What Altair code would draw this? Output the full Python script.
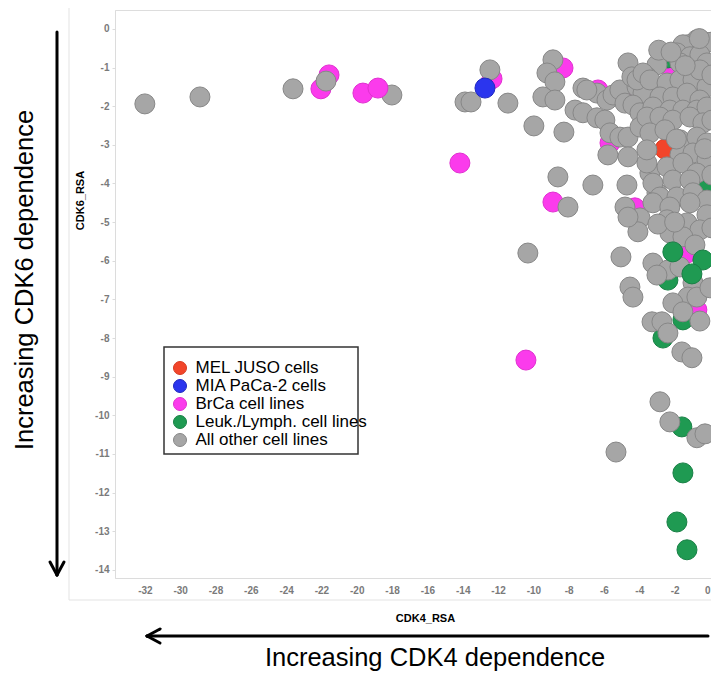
import altair as alt
import pandas as pd

groups = ["MEL JUSO cells", "MIA PaCa-2 cells", "BrCa cell lines",
          "Leuk./Lymph. cell lines", "All other cell lines"]
fill_colors = ["#f2452a", "#2b35ee", "#fb3bec", "#1f9a52", "#a6a6a6"]
stroke_colors = ["#d83a20", "#2029c0", "#e030d0", "#188045", "#878787"]

x_ticks = [-32, -30, -28, -26, -24, -22, -20, -18, -16, -14, -12, -10, -8, -6, -4, -2, 0]
y_ticks = [-14, -13, -12, -11, -10, -9, -8, -7, -6, -5, -4, -3, -2, -1, 0]

x_title = "CDK4_RSA"
y_title = "CDK6_RSA"
x_note = "Increasing CDK4 dependence"
y_note = "Increasing CDK6 dependence"

# front = 1 -> drawn above the grey cloud, 0 -> drawn below it
mel_cdk4 = [-2.55]
mel_cdk6 = [-3.11]
mel_front = [0]

mia_cdk4 = [-12.74]
mia_cdk6 = [-1.53]
mia_front = [1]

brca_cdk4 = [-22.03, -21.57, -19.65, -18.80, -12.34, -14.16, -8.32, -8.89, -10.42,
             -6.34, -5.66, -4.25, -1.30, -0.74, -2.15, 0.00, -4.59]
brca_cdk6 = [-1.55, -1.19, -1.66, -1.53, -1.29, -3.47, -1.01, -4.48, -8.57,
             -1.58, -2.95, -4.63, -5.80, -7.27, -1.06, -0.93, -1.68]
brca_front = [0, 0, 1, 1, 0, 1, 0, 0, 1, 0, 0, 0, 0, 0, 0, 0, 0]

leuk_cdk4 = [-2.38, -0.11, -2.10, -0.40, -1.02, -2.38, -1.53, -2.66, -1.59, -1.53, -1.87, -1.30]
leuk_cdk6 = [-0.75, -3.99, -5.77, -5.98, -6.34, -6.50, -7.53, -8.00, -10.30, -11.49, -12.76, -13.48]
leuk_front = [0, 0, 1, 1, 1, 0, 0, 0, 0, 1, 1, 1]

other_cdk4 = [
    -32.00, -28.88, -23.61, -21.74, -18.01, -13.87, -13.53, -12.46, -11.44, -9.97,
    -8.27, -8.89, -9.23, -8.78, -9.46, -8.78, -7.64, -7.19, -7.19, -6.40,
    -5.83, -5.49, -6.40, -5.95, -5.66, -5.10, -4.64, -5.78, -4.64, -4.64,
    -5.10, -4.81, -4.13, -4.42, -3.79, -3.00, -3.57, -8.61, -6.63, -4.70,
    -8.04, -4.81, -3.96, -4.08, -4.64, -10.31, -5.04, -3.40, -3.00, -3.57,
    -3.23, -2.38, -4.53, -4.36, -3.00, -1.70, -0.96, -1.25, -0.74, -2.10,
    -1.53, -0.57, -3.28, -2.72, -2.38, -1.59, -1.02, -2.83, -2.27, -0.74,
    -0.28, -5.32, -4.13, -3.79, -4.36, -3.96, -3.96, -6.97,
    -0.74, -0.28, -1.25, -0.40, -1.53, 0.11, -1.87, -1.13, -0.57, -0.17,
    -1.13, -1.70, -3.40, -2.43, -1.70, -0.96, -0.17, -2.83, -2.10, -1.30,
    -0.57, -3.23, -2.27, -1.53, -0.74, -0.17, -3.57, -2.83, -2.10, -1.13,
    -0.40, -3.40, -2.55, -1.70, -0.74, -0.17, -3.57, -1.70, -0.96, -0.17,
    -2.43, -1.53, -0.74, -3.23, -2.10, -1.13, -2.83, -1.87, -0.96, -0.17,
    -3.23, -2.27, -1.13, -0.17, -2.43, -1.30, -0.57, -2.27, -1.53, -0.85,
    -0.57, 0.11, 0.11, 0.11, 0.11, 0.00,
    -2.90, -2.20, -1.40, -0.60, -1.90, -0.30, -2.95, -2.00,
]
other_cdk6 = [
    -1.94, -1.76, -1.55, -1.35, -1.71, -1.89, -1.89, -1.06, -1.92, -2.51,
    -2.67, -0.80, -1.14, -1.37, -1.76, -1.84, -2.10, -2.17, -1.53, -1.66,
    -1.84, -1.71, -2.30, -2.36, -2.69, -2.80, -2.80, -3.26, -3.31, -0.88,
    -1.58, -1.92, -1.50, -1.24, -1.66, -0.93, -1.24, -3.83, -4.04, -4.04,
    -4.61, -4.61, -4.89, -5.25, -4.87, -5.80, -5.90, -3.73, -4.24, -3.47,
    -6.06, -6.24, -6.68, -6.94, -6.37, -6.16, -6.57, -6.94, -6.94, -7.09,
    -7.32, -7.56, -7.58, -7.58, -7.87, -8.36, -8.51, -9.65, -10.17, -10.58,
    -10.48, -10.95, -1.32, -1.14, -1.97, -2.17, -2.54, -1.58,
    -0.28, -0.34, -0.41, -0.36, -0.41, -0.34, -0.62, -0.72, -0.67, -0.88,
    -1.06, -0.88, -1.32, -1.40, -1.32, -1.32, -1.50, -1.76, -1.76, -1.66,
    -1.84, -2.02, -2.10, -2.10, -2.10, -2.02, -2.28, -2.28, -2.36, -2.28,
    -2.43, -2.69, -2.61, -2.87, -2.80, -2.95, -3.13, -3.26, -3.21, -3.39,
    -3.57, -3.47, -3.73, -3.99, -3.91, -3.91, -4.35, -4.35, -4.24, -4.43,
    -4.50, -4.61, -4.50, -4.81, -4.94, -5.02, -5.20, -5.28, -5.38, -5.59,
    -1.06, -1.19, -2.36, -3.78, -5.15, -6.70,
    -0.55, -0.60, -0.95, -0.25, -2.85, -3.10, -5.05, -5.00,
]

coloured = [
    (groups[0], mel_cdk4, mel_cdk6, mel_front),
    (groups[1], mia_cdk4, mia_cdk6, mia_front),
    (groups[2], brca_cdk4, brca_cdk6, brca_front),
    (groups[3], leuk_cdk4, leuk_cdk6, leuk_front),
]

rows = []
for g, xs, ys, fr in coloured:
    for a, b, f in zip(xs, ys, fr):
        if f == 0:
            rows.append({"cdk4": a, "cdk6": b, "group": g})
for a, b in zip(other_cdk4, other_cdk6):
    rows.append({"cdk4": a, "cdk6": b, "group": groups[4]})
for g, xs, ys, fr in coloured:
    for a, b, f in zip(xs, ys, fr):
        if f == 1:
            rows.append({"cdk4": a, "cdk6": b, "group": g})
df = pd.DataFrame(rows)

FONT = "Liberation Sans"

points = alt.Chart(df).mark_circle(size=400, opacity=1, strokeWidth=1).encode(
    x=alt.X("cdk4:Q",
            scale=alt.Scale(domain=[-33.69, 0.06], nice=False, zero=False),
            axis=alt.Axis(values=x_ticks, labelExpr="'' + datum.value",
                          labelFontSize=10, labelFont=FONT, labelFontWeight="bold",
                          labelColor="#7a7a7a", ticks=False, labelPadding=7,
                          labelFlush=3,
                          domainColor="#dcdcdc", grid=False,
                          title=x_title, titleFontSize=11, titleFont=FONT,
                          titleFontWeight="bold", titleColor="black",
                          titleX=310, titleY=40, titleBaseline="middle",
                          titleAlign="center")),
    y=alt.Y("cdk6:Q",
            scale=alt.Scale(domain=[-14.21, 0.49], nice=False, zero=False),
            axis=alt.Axis(values=y_ticks, labelExpr="'' + datum.value",
                          labelFontSize=10, labelFont=FONT, labelFontWeight="bold",
                          labelColor="#7a7a7a", tickSize=3, tickColor="#dcdcdc",
                          labelPadding=3, domainColor="#dcdcdc", grid=False,
                          title=y_title, titleFontSize=11, titleFont=FONT,
                          titleFontWeight="bold", titleColor="black",
                          titleX=-35, titleY=190, titleAngle=270,
                          titleBaseline="middle", titleAlign="center")),
    color=alt.Color("group:N",
                    scale=alt.Scale(domain=groups, range=fill_colors),
                    legend=alt.Legend(title=None, orient="none", legendX=56.5,
                                      legendY=349.5, labelFontSize=17,
                                      labelFont=FONT, labelColor="black",
                                      labelLimit=400,
                                      symbolSize=169, rowPadding=0,
                                      labelOffset=7, padding=0,
                                      symbolType="circle", symbolStrokeWidth=1)),
    stroke=alt.Stroke("group:N",
                      scale=alt.Scale(domain=groups, range=stroke_colors),
                      legend=None),
)

ann = pd.DataFrame({"k": [0]})

frame_v = alt.Chart(ann).mark_rule(color="#e3e3e3", strokeWidth=1).encode(
    x=alt.value(-46), y=alt.value(-10), y2=alt.value(590))
frame_h = alt.Chart(ann).mark_rule(color="#e3e3e3", strokeWidth=1).encode(
    x=alt.value(-46), x2=alt.value(603), y=alt.value(590))

box = alt.Chart(ann).mark_rect(fill="white", stroke="#333333", strokeWidth=1.5).encode(
    x=alt.value(49), x2=alt.value(243), y=alt.value(337), y2=alt.value(444))

arrow_kw = dict(color="black", strokeWidth=3, strokeCap="round")
h_line = alt.Chart(ann).mark_rule(**arrow_kw).encode(
    x=alt.value(32), x2=alt.value(593), y=alt.value(626))
h_head1 = alt.Chart(ann).mark_rule(**arrow_kw).encode(
    x=alt.value(32), y=alt.value(626), x2=alt.value(45), y2=alt.value(619))
h_head2 = alt.Chart(ann).mark_rule(**arrow_kw).encode(
    x=alt.value(32), y=alt.value(626), x2=alt.value(45), y2=alt.value(633))
v_line = alt.Chart(ann).mark_rule(**arrow_kw).encode(
    x=alt.value(-58), y=alt.value(22), y2=alt.value(565))
v_head1 = alt.Chart(ann).mark_rule(**arrow_kw).encode(
    x=alt.value(-58), y=alt.value(565), x2=alt.value(-65), y2=alt.value(552))
v_head2 = alt.Chart(ann).mark_rule(**arrow_kw).encode(
    x=alt.value(-58), y=alt.value(565), x2=alt.value(-51), y2=alt.value(552))

x_note_mark = alt.Chart(ann).mark_text(
    fontSize=25.5, font=FONT, align="center", baseline="alphabetic", color="black"
).encode(x=alt.value(320), y=alt.value(656), text=alt.value(x_note))
y_note_mark = alt.Chart(ann).mark_text(
    fontSize=25.5, font=FONT, align="center", baseline="alphabetic", color="black",
    angle=270
).encode(x=alt.value(-82), y=alt.value(270), text=alt.value(y_note))

chart = alt.layer(
    frame_v, frame_h, box, points,
    h_line, h_head1, h_head2, v_line, v_head1, v_head2,
    x_note_mark, y_note_mark,
).properties(
    width=596, height=568,
    padding={"left": 107, "top": 2, "right": 0, "bottom": 93},
    autosize=alt.AutoSizeParams(type="none"),
).configure_view(stroke=None).configure(font=FONT)

chart.save("out.html", embed_options={"renderer": "svg", "actions": False})
